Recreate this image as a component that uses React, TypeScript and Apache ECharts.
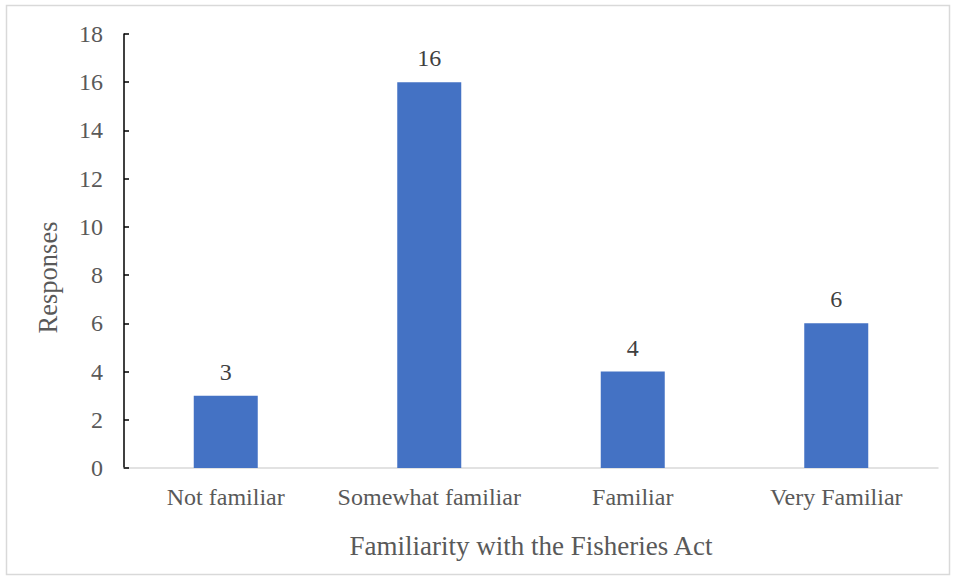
import React, { useEffect, useRef } from "react";
import * as echarts from "echarts";

const categories = ["Not familiar", "Somewhat familiar", "Familiar", "Very Familiar"];
const responses = [3, 16, 4, 6];
const yTicks = { min: 0, max: 18, interval: 2 };
const xTitle = "Familiarity with the Fisheries Act";
const yTitle = "Responses";

export default function App() {
  const ref = useRef<HTMLDivElement>(null);
  useEffect(() => {
    document.body.style.margin = "0";
    const chart = echarts.init(ref.current!, null, { renderer: "svg" });
    const font = "'Liberation Serif', 'Times New Roman', serif";
    chart.setOption({
      animation: false,
      backgroundColor: "#ffffff",
      textStyle: { fontFamily: font },
      graphic: [
        {
          type: "rect",
          shape: { x: 6.5, y: 5.5, width: 943, height: 569 },
          style: { fill: "none", stroke: "#d9d9d9", lineWidth: 1.5 },
          silent: true,
        },
        {
          type: "text",
          x: 48,
          y: 277.5,
          rotation: Math.PI / 2,
          style: {
            text: yTitle,
            fontFamily: font,
            fontSize: 26.5,
            fill: "#595959",
            align: "center",
            verticalAlign: "middle",
          },
          silent: true,
        },
      ],
      grid: { left: 124, top: 34, width: 814, height: 434, containLabel: false },
      xAxis: {
        type: "category",
        data: categories,
        name: xTitle,
        nameLocation: "middle",
        nameGap: 64,
        nameTextStyle: { fontFamily: font, fontSize: 27, color: "#595959" },
        axisLine: { lineStyle: { color: "#d9d9d9", width: 1.5 } },
        axisTick: { show: false },
        axisLabel: { interval: 0, fontFamily: font, fontSize: 24, color: "#595959", margin: 17 },
      },
      yAxis: {
        type: "value",
        min: yTicks.min,
        max: yTicks.max,
        interval: yTicks.interval,
        axisLine: { show: true, lineStyle: { color: "#000000", width: 1.5 } },
        axisTick: { show: true, inside: true, length: 5, lineStyle: { color: "#000000", width: 1.5 } },
        splitLine: { show: false },
        axisLabel: { fontFamily: font, fontSize: 24, color: "#595959", margin: 21 },
      },
      series: [
        {
          type: "bar",
          data: responses,
          barWidth: 64,
          itemStyle: { color: "#4472c4" },
          label: {
            show: true,
            position: "top",
            distance: 12,
            fontFamily: font,
            fontSize: 24,
            color: "#404040",
          },
        },
      ],
    });
    return () => chart.dispose();
  }, []);
  return <div ref={ref} style={{ position: "fixed", left: 0, top: 0, width: 956, height: 577 }} />;
}
